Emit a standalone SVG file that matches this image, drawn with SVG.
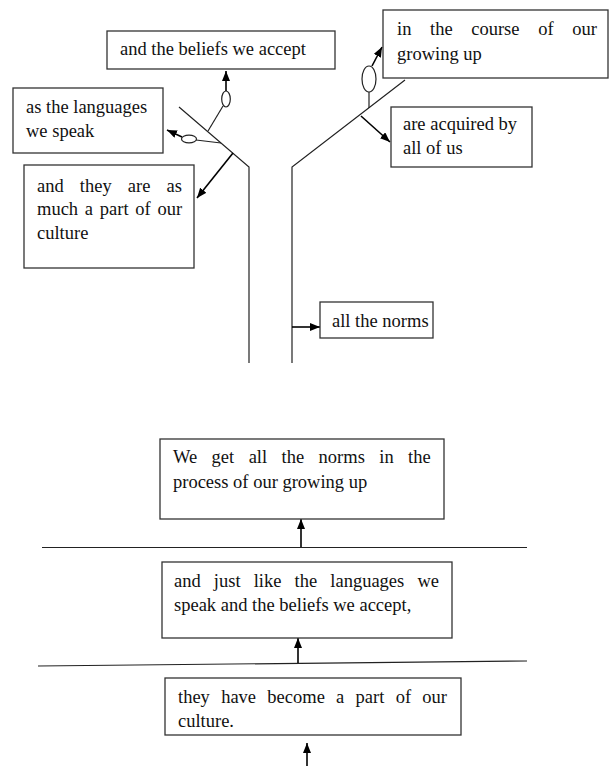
<svg xmlns="http://www.w3.org/2000/svg" width="610" height="768" viewBox="0 0 610 768">
<defs>
<style>
.box{fill:#fff;stroke:#333;stroke-width:1.3}
.t{font-family:"Liberation Serif","Times New Roman",serif;font-size:18.5px;fill:#111}
.ln{fill:none;stroke:#222;stroke-width:1.2}
.ar{fill:none;stroke:#000;stroke-width:1.6;marker-end:url(#ah)}
.el{fill:#fff;stroke:#222;stroke-width:1.2}
</style>
<marker id="ah" viewBox="0 0 10 8" refX="10" refY="4" markerWidth="10" markerHeight="8" markerUnits="userSpaceOnUse" orient="auto">
<path d="M0,0 L10,4 L0,8 z" fill="#000"/>
</marker>
</defs>
<rect width="610" height="768" fill="#fff"/>

<g id="tree">
<polyline class="ln" points="179,107 249,167 249,363"/>
<polyline class="ln" points="405,80 292,167 292,363"/>
<line class="ln" x1="42" y1="547.5" x2="527" y2="547.5"/>
<line class="ln" x1="38" y1="666" x2="527" y2="661"/>
</g>

<g id="connectors">
<line class="ln" x1="208" y1="131" x2="223" y2="106"/>
<ellipse class="el" cx="226" cy="99" rx="4.3" ry="8"/>
<line class="ar" x1="226" y1="91" x2="226" y2="71"/>
<line class="ln" x1="221" y1="143" x2="196" y2="140"/>
<ellipse class="el" cx="189" cy="139" rx="7.5" ry="3.8"/>
<line class="ar" x1="182" y1="137" x2="167" y2="130"/>
<line class="ar" x1="233" y1="153" x2="197" y2="198"/>
<line class="ln" x1="369" y1="108" x2="369" y2="92"/>
<ellipse class="el" cx="369" cy="79" rx="7" ry="13"/>
<line class="ar" x1="372" y1="66" x2="382" y2="47"/>
<line class="ar" x1="361" y1="116" x2="390" y2="142"/>
<line class="ar" x1="292" y1="327" x2="320" y2="327"/>
<line class="ar" x1="301" y1="547" x2="301" y2="519"/>
<line class="ar" x1="298" y1="663" x2="298" y2="638"/>
<line class="ar" x1="307" y1="766" x2="307" y2="743"/>
</g>

<g id="n1">
<rect class="box" x="107" y="31" width="228" height="38"/>
<text class="t" x="120" y="55">and the beliefs we accept</text>
</g>
<g id="n2">
<rect class="box" x="13" y="88" width="150" height="65"/>
<text class="t" x="26" y="113">as the languages</text>
<text class="t" x="26" y="137">we speak</text>
</g>
<g id="n3">
<rect class="box" x="24" y="165" width="170" height="103"/>
<text class="t" x="37" y="192" word-spacing="11.5">and they are as</text>
<text class="t" x="37" y="215" word-spacing="2.1">much a part of our</text>
<text class="t" x="37" y="239">culture</text>
</g>
<g id="n4">
<rect class="box" x="383" y="10" width="225" height="68"/>
<text class="t" x="397" y="35" word-spacing="14">in the course of our</text>
<text class="t" x="397" y="60">growing up</text>
</g>
<g id="n5">
<rect class="box" x="391" y="107" width="141" height="60"/>
<text class="t" x="403" y="130">are acquired by</text>
<text class="t" x="403" y="154">all of us</text>
</g>
<g id="n6">
<rect class="box" x="320" y="302" width="113" height="36"/>
<text class="t" x="332" y="327">all the norms</text>
</g>
<g id="n7">
<rect class="box" x="160" y="439" width="284" height="80"/>
<text class="t" x="173" y="463" word-spacing="9.8">We get all the norms in the</text>
<text class="t" x="173" y="488">process of our growing up</text>
</g>
<g id="n8">
<rect class="box" x="162" y="562" width="290" height="76"/>
<text class="t" x="174" y="587" word-spacing="8.5">and just like the languages we</text>
<text class="t" x="174" y="611">speak and the beliefs we accept,</text>
</g>
<g id="n9">
<rect class="box" x="165" y="678" width="296" height="57"/>
<text class="t" x="178" y="703" word-spacing="6.65">they have become a part of our</text>
<text class="t" x="178" y="727">culture.</text>
</g>
</svg>
